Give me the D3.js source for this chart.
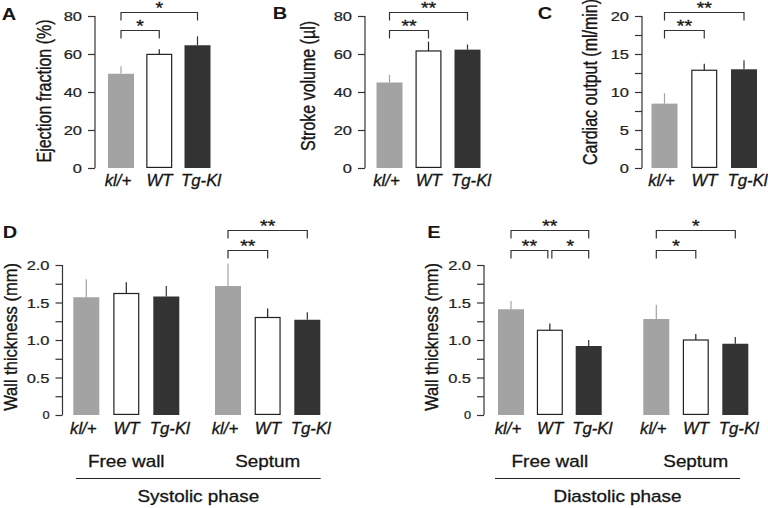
<!DOCTYPE html>
<html><head><meta charset="utf-8">
<script src="https://cdn.jsdelivr.net/npm/d3@7"></script>
<style>
html,body{margin:0;padding:0;background:#fff;}
svg{display:block;font-family:"Liberation Sans",Arial,sans-serif;}
</style></head>
<body>
<svg id="chart" width="768" height="508"></svg>
<script>
// ---------- data ----------
const categories = ["kl/+", "WT", "Tg-Kl"];
const efMean = [49.6, 59.8, 64.6];
const efSem  = [4.0, 2.7, 4.7];
const svMean = [45.0, 61.6, 62.3];
const svSem  = [4.0, 4.9, 2.7];
const coMean = [8.47, 12.86, 12.99];
const coSem  = [1.35, 0.85, 1.2];
const sysFreeMean = [1.57, 1.62, 1.58];
const sysFreeSem  = [0.24, 0.15, 0.14];
const sysSeptMean = [1.72, 1.30, 1.27];
const sysSeptSem  = [0.30, 0.12, 0.10];
const diaFreeMean = [1.41, 1.13, 0.92];
const diaFreeSem  = [0.11, 0.09, 0.08];
const diaSeptMean = [1.28, 1.00, 0.95];
const diaSeptSem  = [0.19, 0.08, 0.09];
const groups = ["Free wall", "Septum"];
const phases = ["Systolic phase", "Diastolic phase"];
// comparisons: [from, to, level, label]
const efSig = [["kl/+","WT",1,"*"],["kl/+","Tg-Kl",2,"*"]];
const svSig = [["kl/+","WT",1,"**"],["kl/+","Tg-Kl",2,"**"]];
const coSig = [["kl/+","WT",1,"**"],["kl/+","Tg-Kl",2,"**"]];
const sysFreeSig = [];
const sysSeptSig = [["kl/+","WT",1,"**"],["kl/+","Tg-Kl",2,"**"]];
const diaFreeSig = [["kl/+","WT",1,"**"],["WT","Tg-Kl",1,"*"],["kl/+","Tg-Kl",2,"**"]];
const diaSeptSig = [["kl/+","WT",1,"*"],["kl/+","Tg-Kl",2,"*"]];
const pctTicks = [0,20,40,60,80];
const coTicks = [0,2.5,5,7.5,10,12.5,15,17.5,20];
const coLabels = [0,5,10,15,20];
const wtTicks = [0,0.25,0.5,0.75,1,1.25,1.5,1.75,2];
const wtLabels = [0,0.5,1,1.5,2];

// ---------- style ----------
const FILL = {"kl/+":"#a3a3a3","WT":"#ffffff","Tg-Kl":"#333333"};
const ERR  = {"kl/+":"#a3a3a3","WT":"#222222","Tg-Kl":"#333333"};
const SX = 1.22;
const INK = "#151515";
const svg = d3.select("#chart");

function txt(x, y, s, o = {}) {
  const t = svg.append("text")
    .attr("transform", `translate(${x},${y}) scale(${o.sx || SX},1)` + (o.rot ? " rotate(-90)" : ""))
    .attr("text-anchor", o.anchor || "middle")
    .attr("font-size", o.size || 16)
    .attr("fill", INK)
    .attr("stroke", INK).attr("stroke-width", o.bold ? 0 : 0.3)
    .text(s);
  if (o.bold) t.attr("font-weight", "bold");
  if (o.italic) t.attr("font-style", "italic");
  if (o.baseline) t.attr("dominant-baseline", o.baseline);
  return t;
}

function axis(xPos, y, ticks, labels, fmt, smallZero) {
  const g = svg.append("g").attr("transform", `translate(${xPos},0)`);
  g.call(d3.axisLeft(y).tickValues(ticks).tickSize(7).tickSizeOuter(0)
      .tickFormat(d => labels.includes(d) ? fmt(d) : ""));
  g.select(".domain").attr("stroke", "#333").attr("stroke-width", 1.2)
    .attr("d", `M0,${y(ticks[ticks.length-1])}V${y(0)}`);
  g.selectAll(".tick line").attr("stroke", "#333").attr("stroke-width", 1.2);
  g.selectAll(".tick text")
    .attr("font-family", '"Liberation Sans",Arial,sans-serif')
    .attr("font-size", 13.5).attr("fill", "#222")
    .attr("stroke", "#222").attr("stroke-width", 0.25)
    .attr("x", -13 / SX).attr("dy", "0.36em")
    .attr("transform", `scale(${SX},1)`);
  if (smallZero) g.selectAll(".tick text").filter(d => d === 0).attr("font-size", 10.5);
}

function bars(x, y, means, sems) {
  const data = categories.map((c, i) => ({c, m: means[i], s: sems[i]}));
  const w = 26;
  svg.append("g").selectAll("rect").data(data).join("rect")
    .attr("x", d => x(d.c) - w/2 + (d.c === "WT" ? 0.6 : 0))
    .attr("y", d => y(d.m))
    .attr("width", d => d.c === "WT" ? w - 1.2 : w)
    .attr("height", d => y(0) - y(d.m) - (d.c === "WT" ? 0.6 : 0))
    .attr("fill", d => FILL[d.c])
    .attr("stroke", d => d.c === "WT" ? "#222" : "none")
    .attr("stroke-width", 1.2);
  svg.append("g").selectAll("line").data(data).join("line")
    .attr("x1", d => x(d.c)).attr("x2", d => x(d.c))
    .attr("y1", d => y(d.m)).attr("y2", d => y(d.m + d.s))
    .attr("stroke", d => ERR[d.c]).attr("stroke-width", 1.2);
}

function brackets(x, sig, yLevel) {
  const g = svg.append("g");
  sig.forEach(([a, b, lv, lab]) => {
    let x1 = x(a), x2 = x(b);
    // avoid overlap with adjacent level-1 brackets sharing an end
    if (lv === 1 && sig.some(s => s[2] === 1 && s[0] === b)) x2 -= 2;
    if (lv === 1 && sig.some(s => s[2] === 1 && s[1] === a)) x1 += 2;
    const yy = yLevel[lv];
    g.append("path").attr("d", `M${x1},${yy + 8}V${yy}H${x2}V${yy + 8}`)
      .attr("fill", "none").attr("stroke", "#333").attr("stroke-width", 1.2);
    txt((x1 + x2) / 2, yy + 1.5, lab, {size: 16});
  });
}

function catLabels(x, yBase) {
  const r = x.range();
  const lx = d3.scalePoint().domain(categories).range([r[0] - 3, r[1] + 3.5]);
  categories.forEach(c => txt(lx(c), yBase, c, {italic: true, size: 16, sx: 1.05}));
}

// ---------- panels A, B, C ----------
const yPct = d3.scaleLinear().domain([0, 80]).range([168, 16]);
const yCO = d3.scaleLinear().domain([0, 20]).range([168, 16]);
const topLevels = {1: 30.5, 2: 12.5};

const xA = d3.scalePoint().domain(categories).range([121, 197.5]);
axis(95, yPct, pctTicks, pctTicks, d3.format("d"));
bars(xA, yPct, efMean, efSem);
brackets(xA, efSig, topLevels);
catLabels(xA, 185.5);
txt(44, 91, "Ejection  fraction (%)", {rot: true, baseline: "central"});
txt(9, 20, "A", {bold: true, size: 16, sx: 1.25});

const xB = d3.scalePoint().domain(categories).range([389.5, 467.5]);
axis(365, yPct, pctTicks, pctTicks, d3.format("d"));
bars(xB, yPct, svMean, svSem);
brackets(xB, svSig, topLevels);
catLabels(xB, 185.5);
txt(308, 86, "Stroke volume (\u00b5l)", {rot: true, baseline: "central"});
txt(280, 19, "B", {bold: true, size: 16, sx: 1.25});

const xC = d3.scalePoint().domain(categories).range([664.5, 744]);
axis(642, yCO, coTicks, coLabels, d3.format("d"));
bars(xC, yCO, coMean, coSem);
brackets(xC, coSig, topLevels);
catLabels(xC, 185.5);
txt(590, 82, "Cardiac output (ml/min)", {rot: true, baseline: "central"});
txt(545, 19, "C", {bold: true, size: 16, sx: 1.25});

// ---------- panels D, E ----------
const yW = d3.scaleLinear().domain([0, 2]).range([415, 265]);
const lowLevels = {1: 250.5, 2: 230.5};
const fmtW = d => d === 0 ? "0" : d3.format(".1f")(d);

function wallPanel(axX, xFree, xSept, fm, fs, sm, ss, fSig, sSig, phase, lineX, letter, letterX, labelX) {
  axis(axX, yW, wtTicks, wtLabels, fmtW, true);
  bars(xFree, yW, fm, fs);
  bars(xSept, yW, sm, ss);
  brackets(xFree, fSig, lowLevels);
  brackets(xSept, sSig, lowLevels);
  catLabels(xFree, 433.5);
  catLabels(xSept, 433.5);
  txt(xFree("WT"), 467, groups[0], {size: 16, sx: 1.18});
  txt(xSept("WT"), 467, groups[1], {size: 16, sx: 1.18});
  svg.append("line").attr("x1", lineX[0]).attr("x2", lineX[1])
    .attr("y1", 478.5).attr("y2", 478.5).attr("stroke", "#222").attr("stroke-width", 1.2);
  txt((lineX[0] + lineX[1]) / 2, 501.5, phase, {size: 16, sx: 1.18});
  txt(labelX, 337, "Wall thickness (mm)", {rot: true, baseline: "central", size: 16.5, sx: 1.12});
  txt(letterX, 238, letter, {bold: true, size: 16, sx: 1.25});
}

wallPanel(62.5,
  d3.scalePoint().domain(categories).range([86.3, 166.3]),
  d3.scalePoint().domain(categories).range([228, 307.3]),
  sysFreeMean, sysFreeSem, sysSeptMean, sysSeptSem, sysFreeSig, sysSeptSig,
  phases[0], [76, 320.7], "D", 10, 11);

wallPanel(484,
  d3.scalePoint().domain(categories).range([511, 588.7]),
  d3.scalePoint().domain(categories).range([656.3, 735.3]),
  diaFreeMean, diaFreeSem, diaSeptMean, diaSeptSem, diaFreeSig, diaSeptSig,
  phases[1], [495, 740], "E", 434, 432);
</script>
</body></html>
